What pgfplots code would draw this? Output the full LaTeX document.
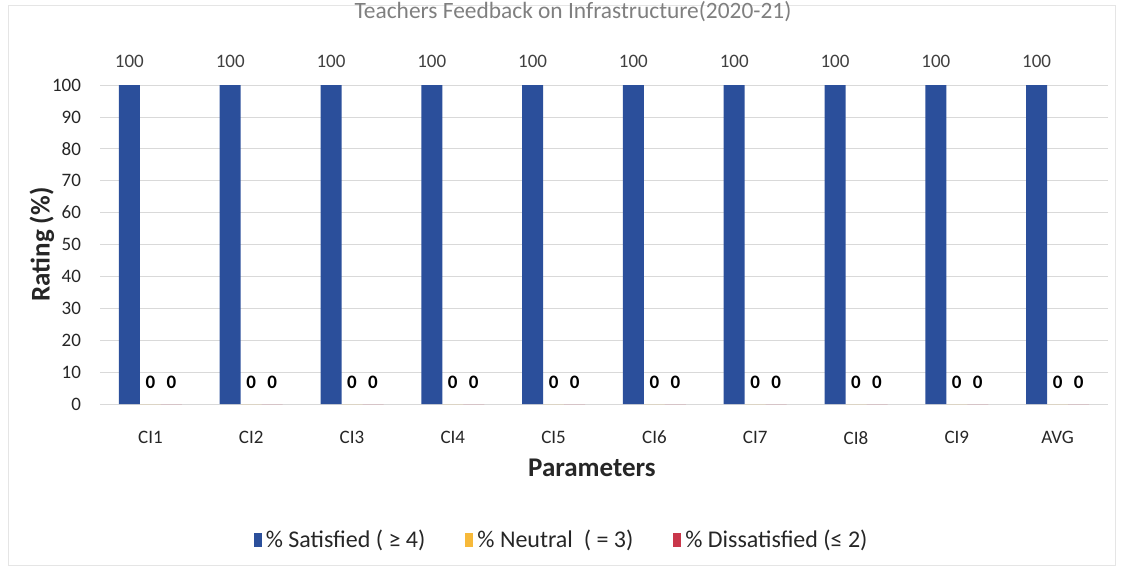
\documentclass[border=0pt]{standalone}
\usepackage{pgfplots}
\pgfplotsset{compat=1.18}
\usepackage{fontspec}
\setmainfont{Carlito}
\definecolor{sat}{HTML}{2B4F9B}
\definecolor{neu}{HTML}{F7B93A}
\definecolor{dis}{HTML}{C9374B}
\definecolor{grd}{HTML}{D9D9D9}
\definecolor{txt}{HTML}{404040}
\definecolor{ttl}{HTML}{7F7F7F}
\begin{document}
\begin{tikzpicture}
\path[use as bounding box] (0pt,0pt) rectangle (561.5pt,284pt);
\draw[gray!20] (4pt,1.5pt) rectangle (557.5pt,281.5pt);
\node[text=ttl, font=\fontsize{11.7}{13}\selectfont] at (286.5pt,278pt) {Teachers Feedback on Infrastructure(2020-21)};
\begin{axis}[
  at={(50pt,82pt)}, anchor=south west,
  scale only axis, width=504pt, height=159.5pt,
  xmin=-0.5, xmax=9.5, ymin=0, ymax=100,
  enlarge x limits=false, enlarge y limits=false,
  /pgf/number format/assume math mode=true,
  ytick={0,10,...,100},
  xtick={0,...,9},
  xticklabels={CI1,CI2,CI3,CI4,CI5,CI6,CI7,CI8,CI9,AVG},
  ymajorgrids, grid style={grd},
  axis x line*=bottom, axis y line*=left,
  x axis line style={draw=grd, -}, y axis line style={draw=none},
  major tick length=0pt,
  tick label style={font=\fontsize{9.5}{11}\selectfont, text=black!85},
  yticklabel style={xshift=-6pt},
  xticklabel style={yshift=-10pt},
  ybar=0pt, bar width=10.5pt,
  every axis x label/.style={at={(axis description cs:0.488,0)}, yshift=-32pt, anchor=center},
  every axis y label/.style={at={(axis description cs:0,0.5)}, xshift=-29pt, rotate=90, anchor=center},
  xlabel={\textbf{Parameters}},
  ylabel={\textbf{Rating (\%)}},
  label style={font=\fontsize{13.5}{15}\selectfont\bfseries, text=black!85},
  legend style={at={(0.459,-0.426)}, anchor=center, draw=none, fill=none,
    legend columns=3, font=\fontsize{12}{14}\selectfont, text=black!85,
    /tikz/every even column/.append style={column sep=18pt}},
  legend image code/.code={\fill[#1] (0pt,-3.5pt) rectangle (4pt,3.5pt);},
  nodes near coords,
]
\addplot[fill=sat, draw=none,
  nodes near coords style={font=\fontsize{9.5}{11}\selectfont, text=txt, yshift=5pt}]
  coordinates {(0,100) (1,100) (2,100) (3,100) (4,100) (5,100) (6,100) (7,100) (8,100) (9,100)};
\addlegendentry{\% Satisfied ( ≥ 4)}
\addplot[fill=neu, draw=none,
  nodes near coords style={font=\fontsize{9.5}{11}\selectfont\bfseries, text=black, yshift=4pt}]
  coordinates {(0,0) (1,0) (2,0) (3,0) (4,0) (5,0) (6,0) (7,0) (8,0) (9,0)};
\addlegendentry{\% Neutral\ \ ( = 3)}
\addplot[fill=dis, draw=none,
  nodes near coords style={font=\fontsize{9.5}{11}\selectfont\bfseries, text=black, yshift=4pt}]
  coordinates {(0,0) (1,0) (2,0) (3,0) (4,0) (5,0) (6,0) (7,0) (8,0) (9,0)};
\addlegendentry{\% Dissatisfied (≤ 2)}
\end{axis}
\end{tikzpicture}
\end{document}
